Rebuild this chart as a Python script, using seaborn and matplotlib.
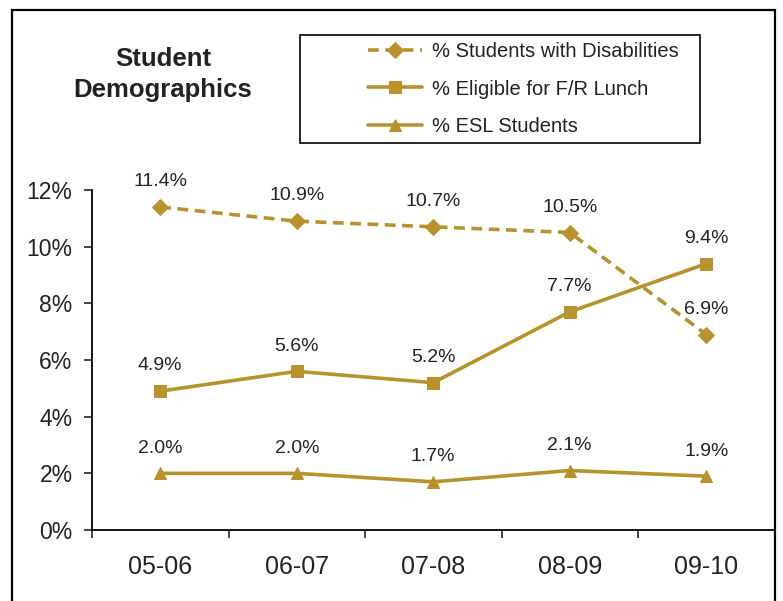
import seaborn as sns
import matplotlib.pyplot as plt
from matplotlib.patches import Rectangle
from matplotlib.ticker import FuncFormatter, FixedLocator

# Datos
years = ['05-06', '06-07', '07-08', '08-09', '09-10']
disabilities = [11.4, 10.9, 10.7, 10.5, 6.9]
lunch = [4.9, 5.6, 5.2, 7.7, 9.4]
esl = [2.0, 2.0, 1.7, 2.1, 1.9]
series_names = ['% Students with Disabilities', '% Eligible for F/R Lunch', '% ESL Students']

sns.set_style('white')
plt.rcParams['font.family'] = ['Liberation Sans', 'DejaVu Sans']

gold = '#B8922A'
txt = '#222222'

fig = plt.figure(figsize=(7.83, 6.01), dpi=100)
ax = fig.add_axes([92 / 783, 1 - 530 / 601, (774.5 - 92) / 783, (530 - 190) / 601])

estilos = [
    (disabilities, 'D', 8.5, (0, (3, 1.8))),
    (lunch, 's', 8, '-'),
    (esl, '^', 9, '-'),
]

for (vals, mk, ms, ls), name in zip(estilos, series_names):
    sns.lineplot(x=years, y=vals, ax=ax, color=gold, marker=mk, markersize=ms,
                 markeredgecolor=gold, linewidth=2.6, linestyle=ls, label=name)
    for i, v in enumerate(vals):
        ax.annotate(f'{v:.1f}%', (i, v), xytext=(0, 12), textcoords='offset points',
                    ha='center', va='bottom', fontsize=14, color=txt)

ax.set_xlim(-0.5, 4.5)
ax.set_ylim(0, 12)
ax.set_yticks(range(0, 13, 2))
ax.yaxis.set_major_formatter(FuncFormatter(lambda v, p: f'{v:.0f}%'))
ax.set_xlabel('')
ax.set_ylabel('')

for s in ['top', 'right']:
    ax.spines[s].set_visible(False)
for s in ['left', 'bottom']:
    ax.spines[s].set_color('black')
    ax.spines[s].set_linewidth(1.3)

ax.tick_params(axis='y', direction='out', length=6, width=1.2, left=True, labelsize=16.5,
               labelcolor=txt, pad=8)
ax.tick_params(axis='x', which='major', length=0, labelsize=18, labelcolor=txt, pad=18)
ax.xaxis.set_minor_locator(FixedLocator([-0.5, 0.5, 1.5, 2.5, 3.5]))
ax.tick_params(axis='x', which='minor', direction='out', length=6, width=1.2, bottom=True)

# Leyenda sin marco, con el recuadro dibujado aparte
handles, labels = ax.get_legend_handles_labels()
ax.get_legend().remove()
fig.legend(handles, labels, loc='upper left', bbox_to_anchor=(368 / 783, 1 - 42 / 601),
           frameon=False, fontsize=14.5, handlelength=2.7, handletextpad=0.5,
           borderpad=0, borderaxespad=0, labelspacing=0.92, labelcolor=txt)
fig.add_artist(Rectangle((300 / 783, 1 - 143 / 601), 400 / 783, 108 / 601,
                         transform=fig.transFigure, fill=False, edgecolor='black', linewidth=1.2))

# Marco exterior
fig.add_artist(Rectangle((12 / 783, -0.05), (775 - 12) / 783, 1.05 - 10 / 601,
                         transform=fig.transFigure, fill=False, edgecolor='black', linewidth=1.6))

fig.text(163 / 783, 1 - 74.5 / 601, 'Student\nDemographics', ha='center', va='center',
         fontsize=18.5, fontweight='bold', color=txt, linespacing=1.35)

fig.savefig('out.png', dpi=100)
